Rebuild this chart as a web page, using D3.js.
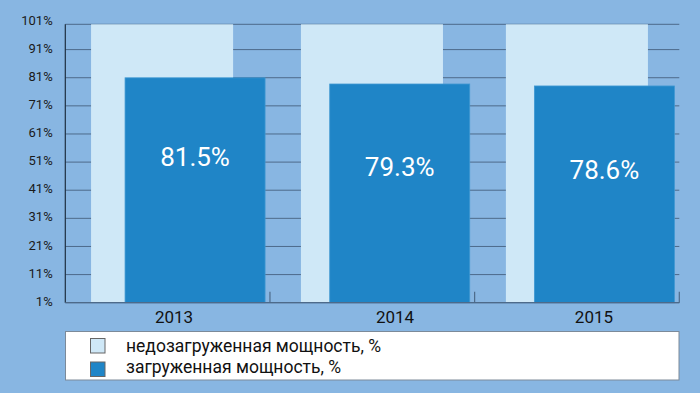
<!DOCTYPE html>
<html>
<head>
<meta charset="utf-8">
<script src="https://cdn.jsdelivr.net/npm/d3@7"></script>
<style>
  html, body { margin: 0; padding: 0; background: #88b6e2; }
  svg { display: block; font-family: Roboto, "Noto Sans", sans-serif; }
</style>
</head>
<body>
<svg id="chart" width="700" height="393"></svg>
<script>
// ---- data ----
const years = ["2013", "2014", "2015"];
const loaded = [81.5, 79.3, 78.6];          // загруженная мощность, %
const total = [100, 100, 100];              // full capacity (light bars)
const yTicks = [1, 11, 21, 31, 41, 51, 61, 71, 81, 91, 101];
const legendLabels = ["недозагруженная мощность, %", "загруженная мощность, %"];

// ---- layout ----
(function () {
const W = 700, H = 393;
const mLeft = 65.3, mRight = 679.3, mTop = 24.3, mBottom = 302.7;
const colors = { bg: "#88b6e2", light: "#cfe8f7", dark: "#1f85c7", grid: "#4d6a8a", axis: "#1e2e40" };
const yearShift = [6.4, 22.7, 17];       // label nudges under each group
const lightShift = [-3.5, 1.7, 2];       // small per-group nudges of light bars
const valueDy = [89.7, 93.2, 94.8];      // value-label baseline offsets below bar top

const svg = d3.select("#chart");
svg.append("rect").attr("width", W).attr("height", H).attr("fill", colors.bg);

const x = d3.scaleBand().domain(years).range([mLeft, mRight]).padding(0);
const y = d3.scaleLinear().domain([1, 100]).range([mBottom, mTop]);
const bw = x.bandwidth();

// gridlines
svg.append("g").selectAll("line")
  .data(yTicks.filter(t => t < 100))
  .join("line")
  .attr("x1", mLeft).attr("x2", mRight)
  .attr("y1", d => y(d)).attr("y2", d => y(d))
  .attr("stroke", colors.grid).attr("stroke-width", 1);
// top frame line
svg.append("line").attr("x1", mLeft).attr("x2", mRight)
  .attr("y1", y(100)).attr("y2", y(100))
  .attr("stroke", colors.grid).attr("stroke-width", 1);

// light bars
svg.append("g").selectAll("rect")
  .data(years)
  .join("rect")
  .attr("x", (d, i) => x(d) + bw * 0.143 + lightShift[i])
  .attr("width", bw * 0.694)
  .attr("y", (d, i) => y(total[i]))
  .attr("height", (d, i) => y(1) - y(total[i]))
  .attr("fill", colors.light);

// dark bars
svg.append("g").selectAll("rect")
  .data(years)
  .join("rect")
  .attr("x", d => x(d) + bw * 0.292)
  .attr("width", bw * 0.684)
  .attr("y", (d, i) => y(loaded[i]) + 1.5)
  .attr("height", (d, i) => y(1) - y(loaded[i]) - 1.5)
  .attr("fill", colors.dark)
  .attr("stroke", "#3f98d2").attr("stroke-width", 0.8);

// value labels
svg.append("g").selectAll("text")
  .data(years)
  .join("text")
  .attr("x", d => x(d) + bw * 0.292 + bw * 0.684 / 2)
  .attr("y", (d, i) => y(loaded[i]) + valueDy[i])
  .attr("text-anchor", "middle")
  .attr("fill", "#ffffff")
  .attr("font-size", 26)
  .text((d, i) => loaded[i].toFixed(1) + "%");

// left axis
svg.append("line").attr("x1", mLeft).attr("x2", mLeft)
  .attr("y1", mTop).attr("y2", mBottom)
  .attr("stroke", colors.axis).attr("stroke-width", 1.2);
// bottom axis
svg.append("line").attr("x1", mLeft).attr("x2", mRight)
  .attr("y1", mBottom).attr("y2", mBottom)
  .attr("stroke", colors.grid).attr("stroke-width", 1.2);
// category separator ticks (upward)
svg.append("g").selectAll("line")
  .data(years)
  .join("line")
  .attr("x1", d => x(d) + bw).attr("x2", d => x(d) + bw)
  .attr("y1", mBottom - 11).attr("y2", mBottom)
  .attr("stroke", colors.grid).attr("stroke-width", 1.2);

// y tick labels
svg.append("g").selectAll("text")
  .data(yTicks)
  .join("text")
  .attr("x", 52.7)
  .attr("y", d => y(d) - 1.5)
  .attr("dy", "0.35em")
  .attr("text-anchor", "end")
  .attr("font-size", 13)
  .attr("fill", "#1a1a1a")
  .text(d => d + "%");

// year labels
svg.append("g").selectAll("text")
  .data(years)
  .join("text")
  .attr("x", (d, i) => x(d) + bw / 2 + yearShift[i])
  .attr("y", 323.3)
  .attr("text-anchor", "middle")
  .attr("font-size", 17)
  .attr("fill", "#111")
  .text(d => d);

// legend
const lg = svg.append("g");
lg.append("rect").attr("x", 65.5).attr("y", 331.5).attr("width", 613.5).attr("height", 48.5)
  .attr("fill", "#ffffff").attr("stroke", "#7c8a99").attr("stroke-width", 1);
const legendColors = [colors.light, colors.dark];
const items = lg.selectAll("g.item").data(legendLabels).join("g").attr("class", "item");
items.append("rect")
  .attr("x", 90.5).attr("y", (d, i) => 338.5 + i * 23.5)
  .attr("width", 14.5).attr("height", 14.5)
  .attr("fill", (d, i) => legendColors[i])
  .attr("stroke", "#666").attr("stroke-width", 1);
items.append("text")
  .attr("x", 126).attr("y", (d, i) => 351.5 + i * 21.7)
  .attr("font-size", 17.5)
  .attr("fill", "#111")
  .text(d => d);
})();
</script>
</body>
</html>
